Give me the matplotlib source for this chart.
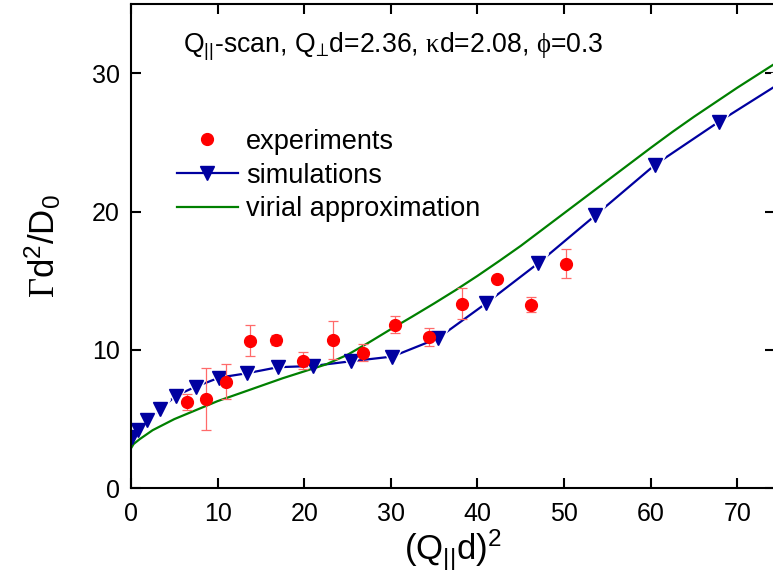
import matplotlib
matplotlib.use("agg")

import matplotlib.pyplot as plt
import numpy as np

plt.rcParams['font.family'] = ['Liberation Sans', 'DejaVu Sans']
plt.rcParams['mathtext.fontset'] = 'custom'
plt.rcParams['mathtext.rm'] = 'Liberation Sans'
plt.rcParams['mathtext.it'] = 'Liberation Sans:italic'
plt.rcParams['mathtext.bf'] = 'Liberation Sans:bold'
plt.rcParams['mathtext.sf'] = 'Liberation Serif'

# Measured decay rates
exp_x = [6.43, 8.62, 11.0, 13.74, 16.74, 19.86, 23.3, 26.83, 30.52, 34.37,
         38.26, 42.23, 46.19, 50.23]
exp_y = [6.24, 6.43, 7.69, 10.67, 10.72, 9.23, 10.7, 9.81, 11.83, 10.92,
         13.35, 15.13, 13.28, 16.22]
exp_err = [0.58, 2.25, 1.27, 1.12, 0.38, 0.64, 1.36, 0.59, 0.61, 0.66,
           1.1, 0.2, 0.53, 1.04]

# Simulation results
sim_x = [0.15, 0.85, 1.89, 3.35, 5.2, 7.5, 10.2, 13.36, 16.97, 20.98, 25.4,
         30.17, 35.4, 41.0, 47.03, 53.62, 60.5, 67.9, 75.0]
sim_y = [3.73, 4.22, 4.94, 5.71, 6.70, 7.35, 8.0, 8.31, 8.75, 8.84, 9.18,
         9.52, 10.83, 13.37, 16.27, 19.73, 23.38, 26.5, 29.3]
sim_err = [0.4] * len(sim_x)

# Virial approximation curve
vir_x = [0, 0.3, 1, 2.5, 5, 7.5, 10, 12.5, 15, 17.5, 20, 22.5, 25, 27.5, 30,
         32.5, 35, 37.5, 40, 42.5, 45, 47.5, 50, 52.5, 55, 57.5, 60, 62.5,
         65, 67.5, 70, 72.5, 74.5]
vir_y = [2.89, 3.2, 3.55, 4.2, 5.0, 5.65, 6.3, 6.85, 7.4, 7.95, 8.45, 8.95,
         9.65, 10.55, 11.5, 12.42, 13.36, 14.33, 15.35, 16.42, 17.52, 18.7,
         19.88, 21.06, 22.24, 23.42, 24.6, 25.75, 26.85, 27.9, 28.95, 29.95,
         30.75]

blue = '#0000a0'
green = '#008000'
red = '#ff0000'

fig = plt.figure(figsize=(7.73, 5.75), dpi=100)
ax = fig.add_axes([0.1695, 0.1508, 0.8325, 0.8423])

# simulation line with white gaps around the symbols
ax.plot(sim_x, sim_y, color=blue, lw=1.6, zorder=2)
ax.plot(sim_x, sim_y, ls='none', marker='v', ms=14, color='white',
        zorder=2.1)
ax.plot(vir_x, vir_y, color=green, lw=1.6, zorder=2.2)
ax.errorbar(sim_x, sim_y, yerr=sim_err, fmt='none', ecolor=blue,
            elinewidth=0.9, capsize=0, zorder=2.3)
ax.plot(sim_x, sim_y, ls='none', marker='v', ms=10, color=blue, zorder=2.4)

ax.errorbar(exp_x, exp_y, yerr=exp_err, fmt='none', ecolor='#ff6a6a',
            elinewidth=0.9, capsize=3.5, capthick=0.9, zorder=2.5)
ax.plot(exp_x, exp_y, ls='none', marker='o', ms=8.5, color=red, zorder=2.6)

# legend handles
h_exp, = ax.plot([], [], ls='none', marker='o', ms=8.5, color=red)
h_sim, = ax.plot([], [], marker='v', ms=10, color=blue, lw=1.6)
h_vir, = ax.plot([], [], color=green, lw=1.6)
ax.legend([h_exp, h_sim, h_vir],
          ['experiments', 'simulations', 'virial approximation'],
          loc='upper left', bbox_to_anchor=(0.0712, 0.742), frameon=False,
          fontsize=19.5, handlelength=2.25, handletextpad=0.3,
          labelspacing=0.28, borderpad=0, borderaxespad=0)

ax.text(0.081, 0.899,
        r'Q$_{||}$-scan, Q$_{⊥}$d=2.36, $\mathsf{\kappa}$d=2.08, '
        r'$\mathsf{\phi}$=0.3',
        transform=ax.transAxes, ha='left', va='baseline', fontsize=19.2)

ax.set_xlim(0, 74.3)
ax.set_ylim(0, 35)
ax.set_xticks(np.arange(0, 71, 10))
ax.set_yticks(np.arange(0, 31, 10))
ax.tick_params(direction='in', length=7, width=1.5, labelsize=18,
               top=True, right=True)
ax.tick_params(axis='x', pad=10)
ax.tick_params(axis='y', pad=8)
for s in ax.spines.values():
    s.set_linewidth(1.5)

ax.set_xlabel(r'(Q$_{||}$d)$^2$', fontsize=25, labelpad=1)
ax.set_ylabel(r'$\mathsf{\Gamma}$d$^2$/D$_0$', fontsize=25, labelpad=21)

fig.savefig("out.png", dpi=100)
